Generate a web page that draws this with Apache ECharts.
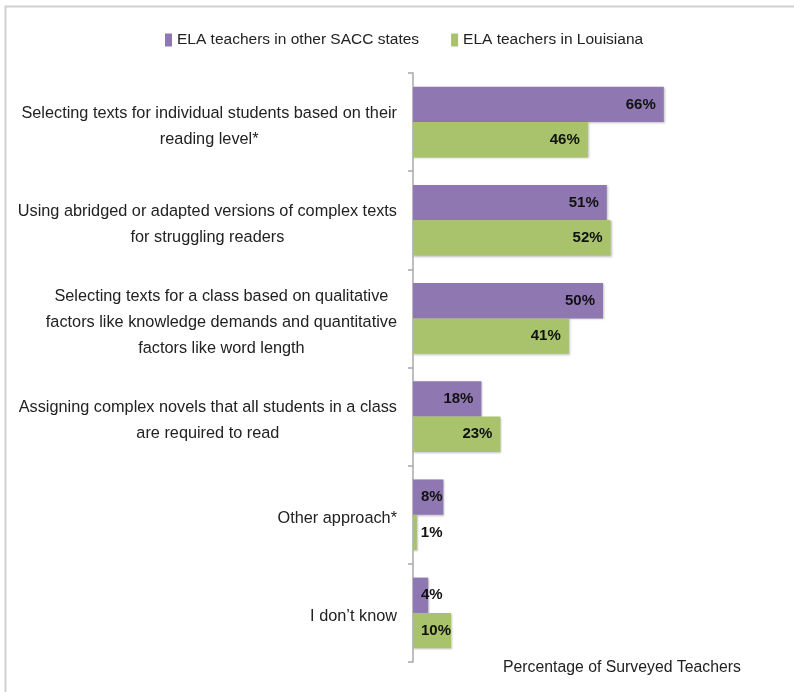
<!DOCTYPE html>
<html>
<head>
<meta charset="utf-8">
<script src="https://cdn.jsdelivr.net/npm/echarts@6/dist/echarts.min.js"></script>
<style>
html,body{margin:0;padding:0;background:#fff;}
#chart{width:794px;height:692px;}
</style>
</head>
<body>
<div id="chart"></div>
<script>
var categories=[
    "Selecting texts for individual students based on their\nreading level*",
    "Using abridged or adapted versions of complex texts\nfor struggling readers",
    "Selecting texts for a class based on qualitative\nfactors like knowledge demands and quantitative\nfactors like word length",
    "Assigning complex novels that all students in a class\nare required to read",
    "Other approach*",
    "I don\u2019t know"
];
var seriesNames=["ELA teachers in other SACC states","ELA teachers in Louisiana"];
var otherStates=[66,51,50,18,8,4];
var louisiana=[46,52,41,23,1,10];

var font='"Liberation Sans", Arial, sans-serif';

// small bars: label can't sit inside the end
function toData(arr){
    return arr.map(function(v){
        var item={value:v};
        if(v<3){
            item.label={position:'right',distance:4};
        }else if(v<=10){
            item.label={position:'insideLeft',distance:8};
        }
        return item;
    });
}

var chart=echarts.init(document.getElementById("chart"));
var option={
    animation:false,
    textStyle:{fontFamily:font},
    graphic:[{
        type:'rect',
        left:3,top:4,
        shape:{width:820,height:720},
        style:{fill:null,stroke:'#d0d0d0',lineWidth:2},
        silent:true
    }],
    title:{
        text:'Percentage of Surveyed Teachers',
        left:498,
        top:655,
        textStyle:{fontFamily:font,fontSize:15.8,fontWeight:'normal',color:'#222'}
    },
    legend:{
        left:160,
        top:27,
        itemWidth:7,
        itemHeight:13,
        itemGap:32,
        icon:'rect',
        textStyle:{fontFamily:font,fontSize:15.5,color:'#222'},
        data:seriesNames
    },
    grid:{left:413,top:73,bottom:30,right:1},
    xAxis:{
        type:'value',
        min:0,
        max:100,
        show:false
    },
    yAxis:{
        type:'category',
        inverse:true,
        data:categories,
        axisLine:{lineStyle:{color:'#a8a8a8',width:1.5}},
        axisTick:{show:true,length:5,lineStyle:{color:'#a8a8a8',width:1.5}},
        axisLabel:{
            margin:16,
            padding:[8,0,0,0],
            formatter:function(v){
                return v.split('\n').map(function(s){return '{c|'+s+'}';}).join('\n');
            },
            rich:{
                c:{align:'center',fontFamily:font,fontSize:16.3,lineHeight:26,color:'#222'}
            }
        }
    },
    series:[
        {
            name:seriesNames[0],
            type:'bar',
            barGap:'0%',
            barCategoryGap:'28%',
            itemStyle:{color:'#8f78b2',shadowColor:'rgba(0,0,0,0.25)',shadowBlur:2,shadowOffsetX:1,shadowOffsetY:1},
            label:{show:true,position:'insideRight',distance:8,formatter:'{c}%',
                fontFamily:font,fontSize:15,fontWeight:'bold',color:'#111'},
            data:toData(otherStates)
        },
        {
            name:seriesNames[1],
            type:'bar',
            barGap:'0%',
            barCategoryGap:'28%',
            itemStyle:{color:'#a8c36b',shadowColor:'rgba(0,0,0,0.25)',shadowBlur:2,shadowOffsetX:1,shadowOffsetY:1},
            label:{show:true,position:'insideRight',distance:8,formatter:'{c}%',
                fontFamily:font,fontSize:15,fontWeight:'bold',color:'#111'},
            data:toData(louisiana)
        }
    ]
};
chart.setOption(option);
</script>
</body>
</html>
